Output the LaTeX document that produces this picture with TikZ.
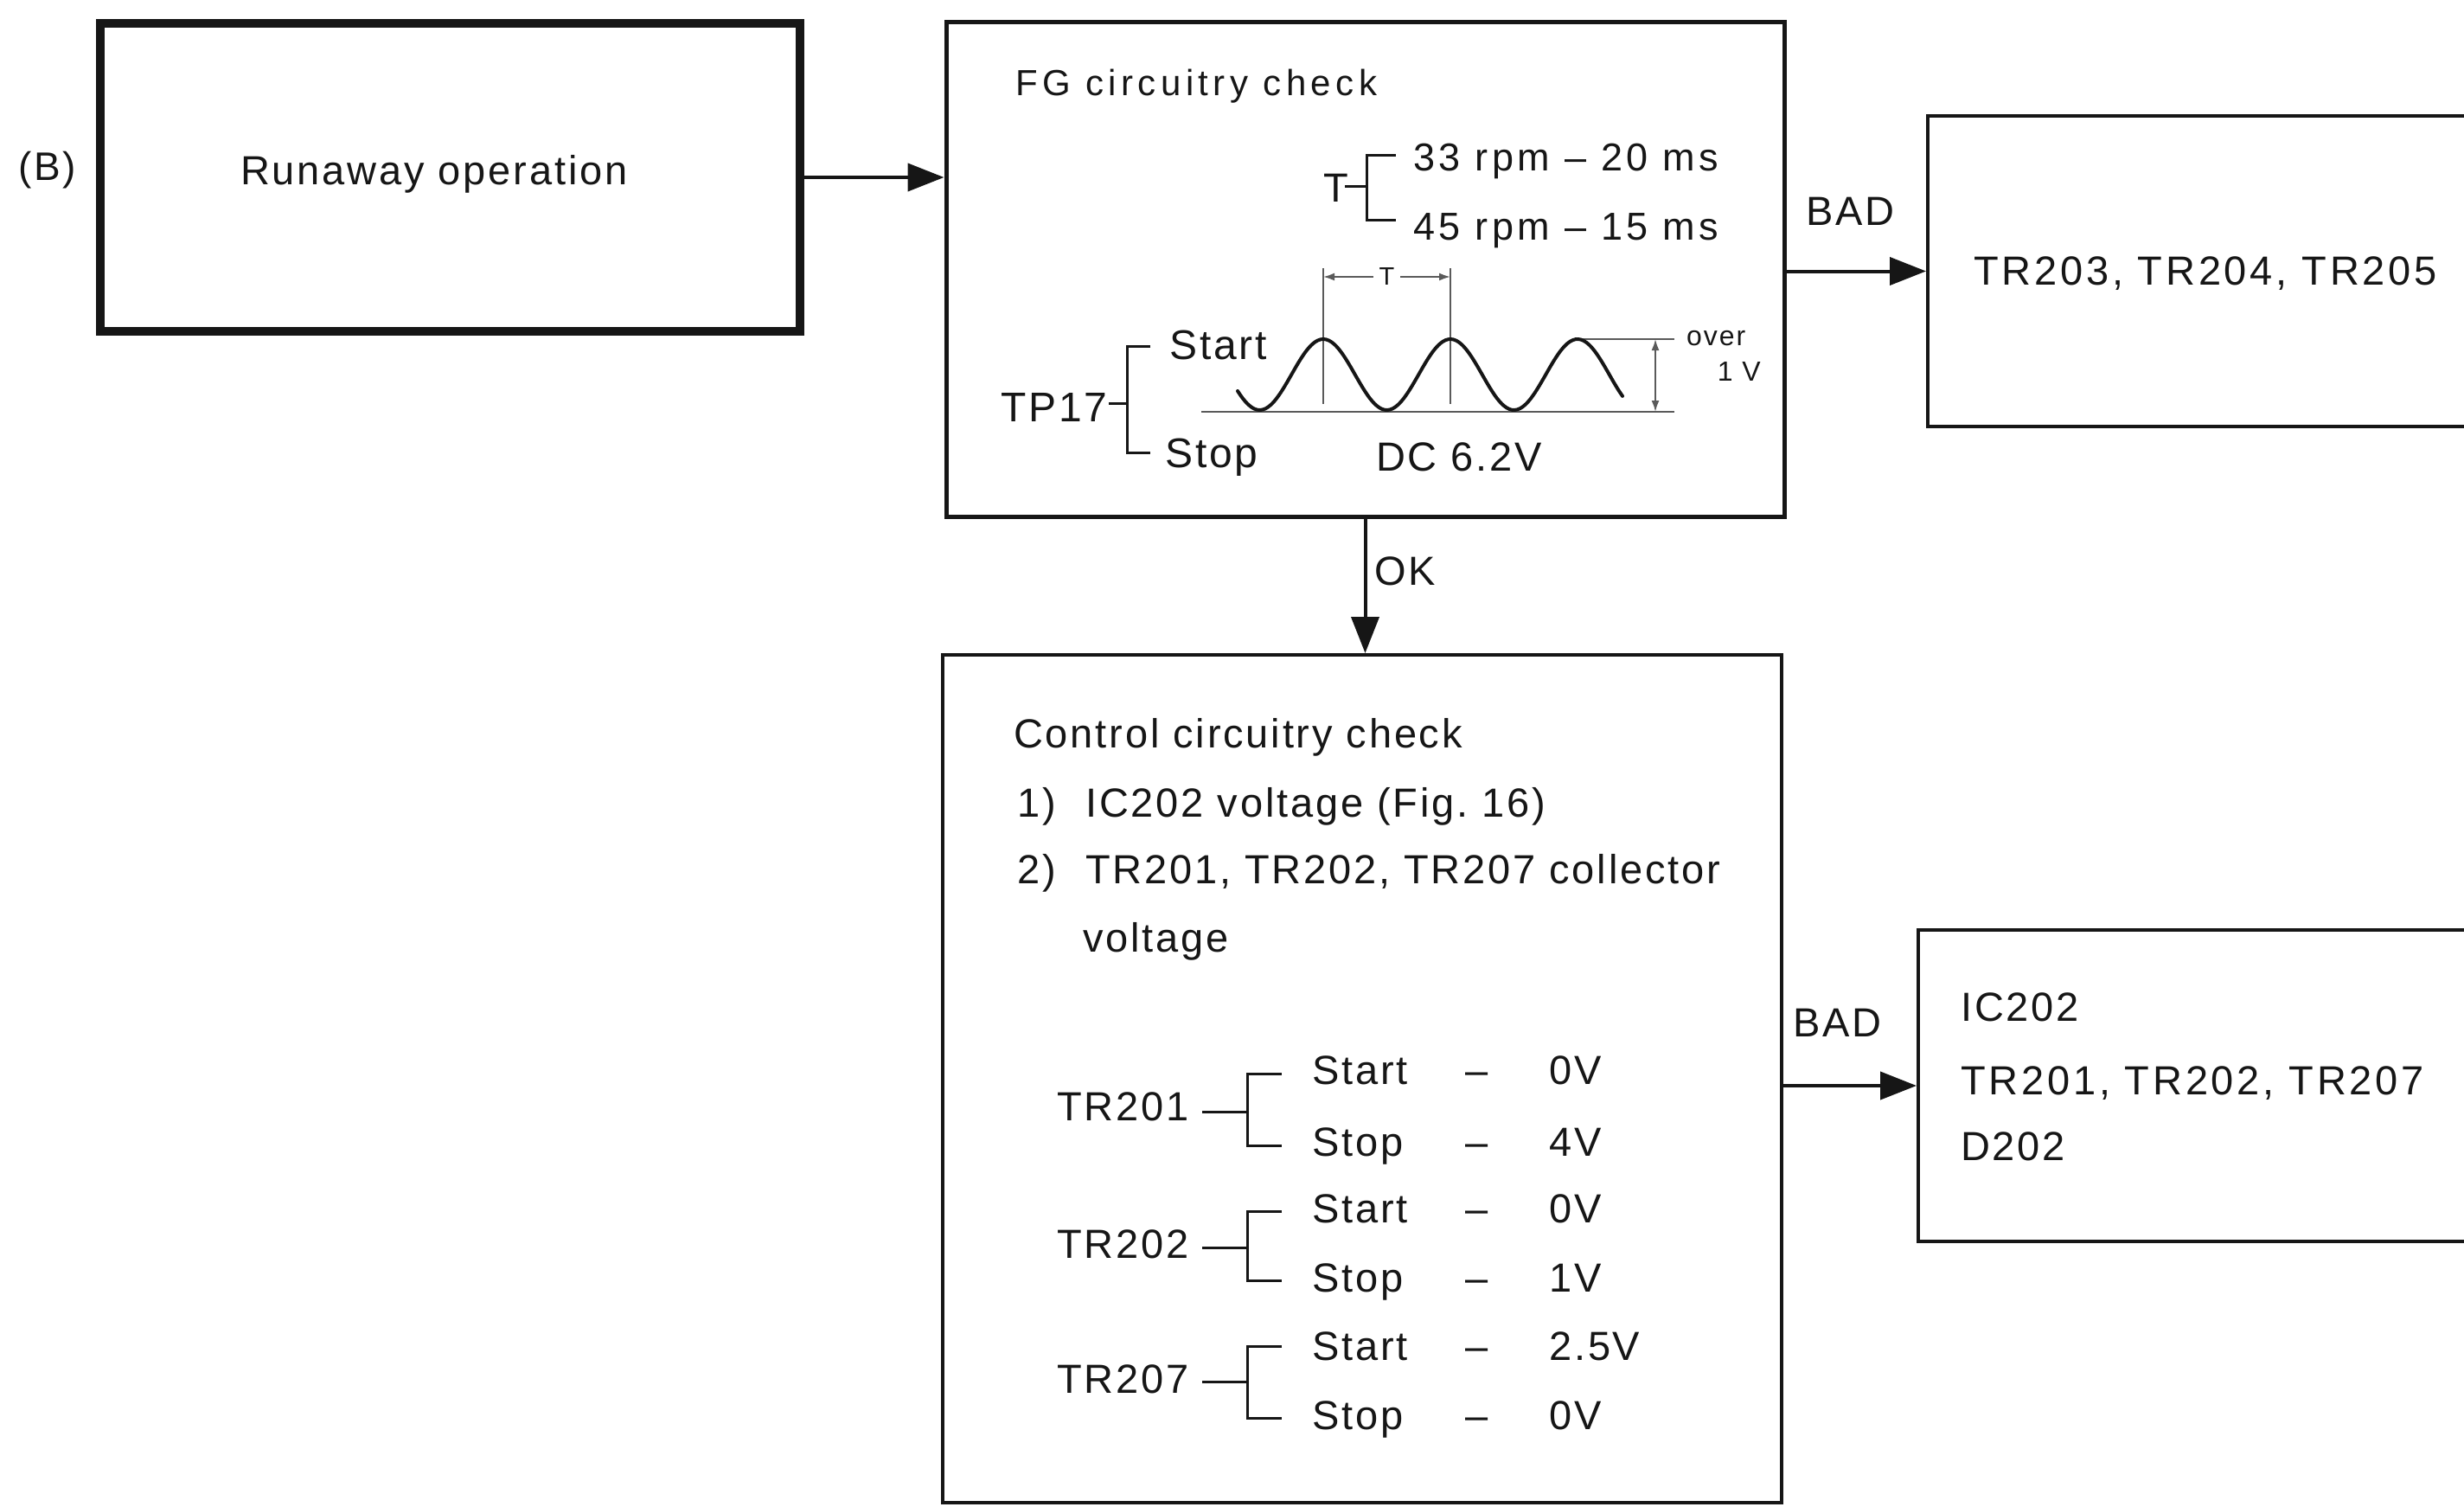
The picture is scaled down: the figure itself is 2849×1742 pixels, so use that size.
\documentclass[tikz,border=0pt]{standalone}
\usepackage{fontspec}
\setmainfont{Liberation Sans}[LetterSpace=6]
\usepackage{tikz}
\usetikzlibrary{arrows.meta}
\definecolor{ink}{HTML}{161616}
\definecolor{guide}{HTML}{5A5A5A}
\tikzset{
  box/.style={draw=ink, line width=4pt, rectangle, inner sep=0pt},
  heavy/.style={draw=ink, line width=10pt, rectangle, inner sep=0pt},
  flow/.style={draw=ink, line width=4pt, -{Triangle[length=42pt,width=32pt]}},
  brk/.style={draw=ink, line width=3pt},
  help/.style={draw=guide, line width=2pt},
  dim/.style={help, {Latex[length=13pt,width=9pt]}-{Latex[length=13pt,width=9pt]}},
  wave/.style={draw=ink, line width=4pt, line cap=round},
  lab/.style={text=ink, inner sep=0pt, anchor=base west, font=\fontsize{47}{56}\selectfont},
  labw/.style={lab, font=\fontsize{47}{56}\selectfont\addfontfeatures{LetterSpace=8}},
  labm/.style={lab, font=\fontsize{42}{48}\selectfont\addfontfeatures{LetterSpace=13}},
  labr/.style={lab, font=\fontsize{45}{52}\selectfont\addfontfeatures{LetterSpace=10}},
  labs/.style={lab, font=\fontsize{32}{38}\selectfont},
}

\begin{document}
\begin{tikzpicture}[x=1pt, y=-1pt]
  \useasboundingbox (0,0) rectangle (2849,1742);

  % boxes
  \node[heavy, minimum width=809pt, minimum height=356pt] (run) at (520.5,205) {};
  \node[box, line width=5pt, minimum width=969pt, minimum height=571pt] (fg) at (1578.5,311.5) {};
  \node[box, minimum width=651pt, minimum height=359pt] (tra) at (2554.5,313.5) {};
  \node[box, minimum width=970pt, minimum height=980pt] (ctl) at (1575,1247) {};
  \node[box, minimum width=662pt, minimum height=360pt] (icd) at (2549,1255) {};

  % arrows
  \draw[flow] (run.east) -- (run.east -| fg.west);
  \draw[flow] (fg.east |- tra.west) -- (tra.west);
  \draw[flow] (fg.south) -- (fg.south |- ctl.north);
  \draw[flow] (ctl.east |- icd.west) -- (icd.west);
  \node[lab] (bad1) at (2088,260) {BAD};
  \node[lab] (ok) at (1589,676) {OK};
  \node[lab] (bad2) at (2073,1198) {BAD};

  \node[lab, font=\fontsize{46}{54}\selectfont] (tagb) at (21,208) {(B)};
  \node[lab] (runtxt) at (278,213) {Runaway operation};

  % FG box
  \node[labm] (fgtxt) at (1174,111) {FG circuitry check};
  \node[lab] (tsym) at (1530,233) {T};
  \draw[brk] (1555,215) -- (1580,215);
  \draw[brk] (1614,179) -- (1580,179) -- (1580,254) -- (1614,254);
  \node[labr] (rpm33) at (1634,197) {33 rpm -- 20 ms};
  \node[labr] (rpm45) at (1634,277) {45 rpm -- 15 ms};

  \draw[help] (1530,310) -- (1530,467);
  \draw[help] (1677,310) -- (1677,467);
  \draw[dim] (1530,320) -- (1677,320)
    node[midway, fill=white, inner sep=7pt, font=\fontsize{29}{34}\selectfont, text=ink] (tper) {T};
  \draw[help] (1389,476) -- (1936,476);
  \draw[help] (1821,392) -- (1936,392);
  \draw[dim] (1914,392) -- (1914,476);
  \draw[wave] plot[domain=1431:1876, samples=140, smooth]
    (\x, {433-41*cos((\x-1530)*2.44898)});
  \node[labs] (over) at (1950,399) {over};
  \node[labs, anchor=base east] (onev) at (2036,440) {1 V};

  \node[lab, font=\fontsize{48}{56}\selectfont] (tp) at (1157,487) {TP17};
  \draw[brk] (1282,466) -- (1303,466);
  \draw[brk] (1330,400) -- (1303,400) -- (1303,523) -- (1330,523);
  \node[lab, font=\fontsize{48}{56}\selectfont] (tpon) at (1352,415) {Start};
  \node[lab, font=\fontsize{48}{56}\selectfont] (tpoff) at (1347,540) {Stop};
  \node[lab] (dc) at (1591,544) {DC 6.2V};

  \node[labw] (tratxt) at (2282,329) {TR203, TR204, TR205};

  % control box
  \node[lab] (ctltxt) at (1172,864) {Control circuitry check};
  \node[lab] (n1) at (1176,944) {1)};
  \node[lab] (ic) at (1255,944) {IC202 voltage (Fig.~16)};
  \node[lab] (n2) at (1176,1021) {2)};
  \node[lab] (coll) at (1255,1021) {TR201, TR202, TR207 collector};
  \node[lab] (volt) at (1252,1100) {voltage};

  \node[lab] (q1) at (1222,1295) {TR201};
  \draw[brk] (1390,1285) -- (1442,1285);
  \draw[brk] (1482,1241) -- (1442,1241) -- (1442,1324) -- (1482,1324);
  \node[lab] (q1a) at (1517,1253) {Start};
  \node[lab] (q1b) at (1517,1336) {Stop};
  \node[lab, anchor=base] (q1c) at (1708,1253) {--};
  \node[lab, anchor=base] (q1d) at (1708,1336) {--};
  \node[lab] (q1e) at (1791,1253) {0V};
  \node[lab] (q1f) at (1791,1336) {4V};

  \node[lab] (q2) at (1222,1454) {TR202};
  \draw[brk] (1390,1442) -- (1442,1442);
  \draw[brk] (1482,1400) -- (1442,1400) -- (1442,1480) -- (1482,1480);
  \node[lab] (q2a) at (1517,1413) {Start};
  \node[lab] (q2b) at (1517,1493) {Stop};
  \node[lab, anchor=base] (q2c) at (1708,1413) {--};
  \node[lab, anchor=base] (q2d) at (1708,1493) {--};
  \node[lab] (q2e) at (1791,1413) {0V};
  \node[lab] (q2f) at (1791,1493) {1V};

  \node[lab] (q3) at (1222,1610) {TR207};
  \draw[brk] (1390,1597) -- (1442,1597);
  \draw[brk] (1482,1556) -- (1442,1556) -- (1442,1639) -- (1482,1639);
  \node[lab] (q3a) at (1517,1572) {Start};
  \node[lab] (q3b) at (1517,1652) {Stop};
  \node[lab, anchor=base] (q3c) at (1708,1572) {--};
  \node[lab, anchor=base] (q3d) at (1708,1652) {--};
  \node[lab] (q3e) at (1791,1572) {2.5V};
  \node[lab] (q3f) at (1791,1652) {0V};

  % result box
  \node[lab] (icd1) at (2267,1180) {IC202};
  \node[labw] (icd2) at (2267,1265) {TR201, TR202, TR207};
  \node[lab] (icd3) at (2267,1341) {D202};
\end{tikzpicture}
\end{document}
